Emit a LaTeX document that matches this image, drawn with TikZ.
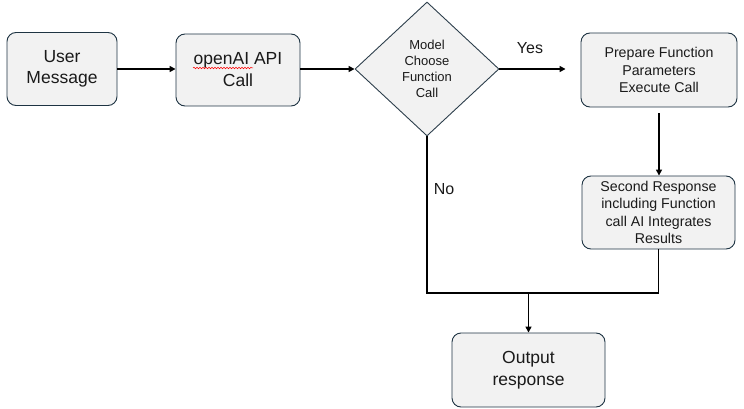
\documentclass[tikz,border=0pt]{standalone}
\usepackage{fontspec}
\setmainfont{Liberation Sans}
\usetikzlibrary{arrows.meta,shapes.geometric,decorations.pathmorphing}
\definecolor{boxfill}{HTML}{F2F2F2}
\definecolor{boxline}{HTML}{1E3443}
\definecolor{txt}{HTML}{1A1A1A}
\begin{document}
\begin{tikzpicture}[x=1pt,y=-1pt,
  box/.style={draw=boxline, line width=0.9pt, fill=boxfill, rounded corners=9pt,
    align=center, text=txt, inner sep=0pt},
  dec/.style={diamond, draw=boxline!85!gray, line width=0.9pt, fill=boxfill, align=center,
    text=txt, inner sep=0pt, minimum width=144pt, minimum height=134pt},
  conn/.style={line width=1.8pt, black, line join=miter},
  arr/.style={conn, -{Triangle[length=6pt,width=6pt]}},
  lbl/.style={text=txt, inner sep=0pt}]
\useasboundingbox (0,0) rectangle (744,409);
\node[box, minimum width=110pt, minimum height=73pt, font=\fontsize{17.5}{21}\selectfont] (user) at (62,69) {User\\Message};
\node[box, minimum width=124pt, minimum height=72pt, font=\fontsize{17.5}{22}\selectfont] (api) at (238,70) {openAI API\\Call};
\node[dec, font=\fontsize{13}{16.2}\selectfont] (dia) at (427,69) {Model\\Choose\\Function\\Call};
\node[box, minimum width=156pt, minimum height=74pt, font=\fontsize{14.2}{17.5}\selectfont] (prep) at (659,70) {Prepare Function\\Parameters\\Execute Call};
\node[box, minimum width=153pt, minimum height=73pt, font=\fontsize{14.2}{17.5}\selectfont] (second) at (658.5,212.5) {Second Response\\including Function\\call AI Integrates\\Results};
\node[box, minimum width=153pt, minimum height=74pt, font=\fontsize{17.5}{22}\selectfont] (out) at (528.5,370) {Output\\response};
\draw[red, line width=0.5pt, decorate, decoration={snake, amplitude=0.8pt, segment length=3pt}] (193,68) -- (253,68);
\draw[arr] (user.east) -- (user.east -| api.west);
\draw[arr] (api.east |- dia.west) -- (dia.west);
\draw[arr, shorten >=15pt] (dia.east) -- (dia.east -| prep.west);
\node[lbl, font=\fontsize{16}{18}\selectfont] (yes) at (530,48) {Yes};
\draw[arr, shorten <=6pt] (prep.south) -- (prep.south |- second.north);
\coordinate (j) at (out.north |- 0,293);
\draw[conn] (dia.south) |- (j) -| (second.south);
\draw[arr] (j) -- (out.north);
\node[lbl, font=\fontsize{16}{18}\selectfont] (no) at (444,189) {No};
\end{tikzpicture}
\end{document}
